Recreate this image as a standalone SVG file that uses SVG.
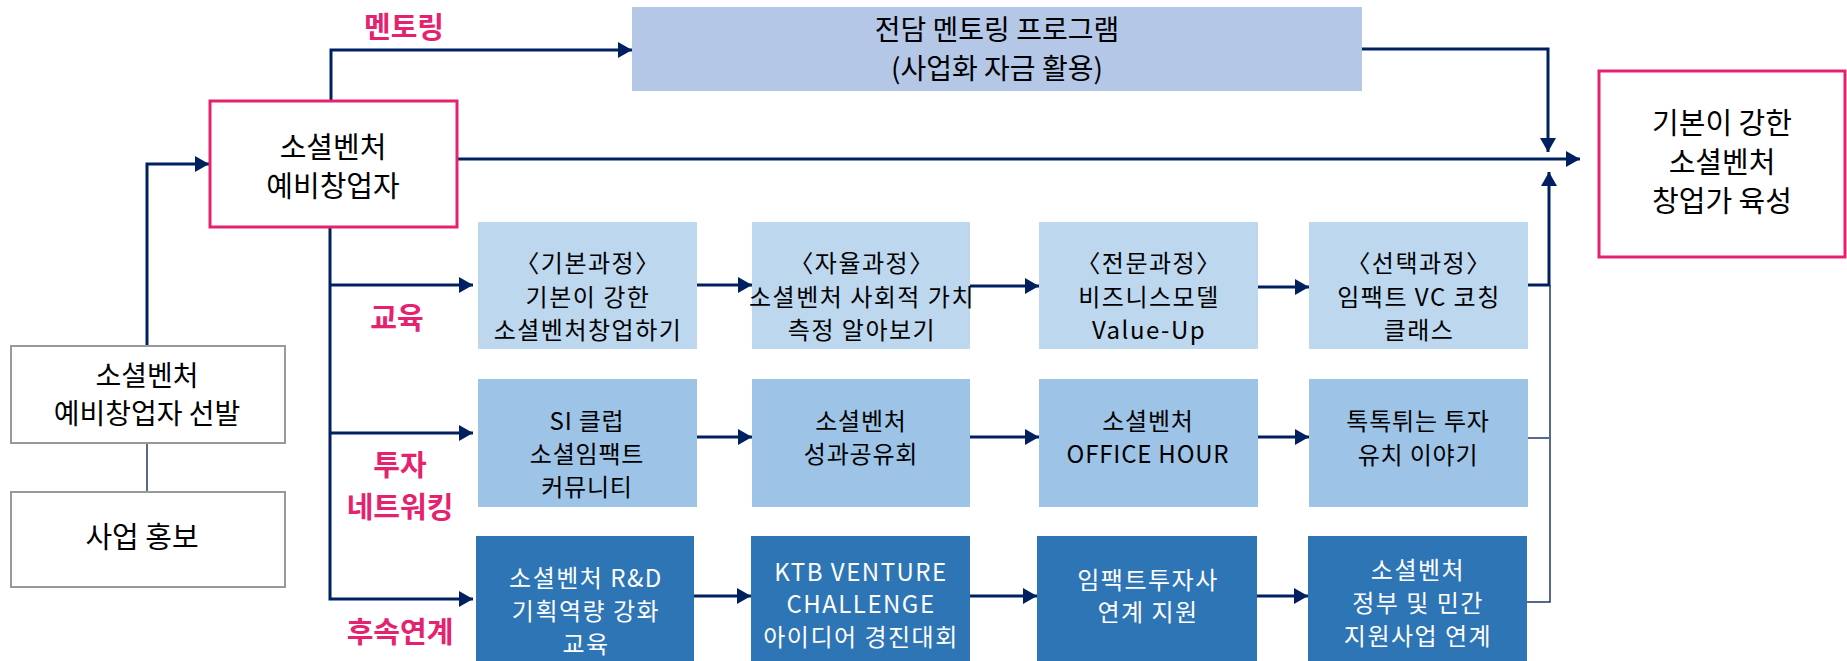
<svg xmlns="http://www.w3.org/2000/svg" width="1847" height="661" viewBox="0 0 1847 661">
<defs>
<style>
.t{font-family:"Noto Sans CJK KR","Noto Sans",sans-serif;text-anchor:middle;fill:#000}
.m{font-size:28px}
.m2{font-size:29px}
.s{font-size:24px;letter-spacing:1.5px}
.s2{font-size:24px;letter-spacing:0.8px}
.w{fill:#fff}
.lb{font-family:"Noto Sans CJK KR","Noto Sans",sans-serif;font-weight:bold;font-size:29px;fill:#E5226F;text-anchor:middle}
.c{fill:none;stroke:#002060;stroke-width:3}
.thin{fill:none;stroke:#1F3864;stroke-width:1.5}
.r1{fill:#BDD7EE}
.r2{fill:#9DC3E6}
.r3{fill:#2E75B6}
</style>
<marker id="ah" viewBox="0 0 14 16" refX="14" refY="8" markerWidth="14" markerHeight="16" markerUnits="userSpaceOnUse" orient="auto">
<path d="M0,0 L14,8 L0,16 Z" fill="#002060"/>
</marker>
</defs>
<rect width="1847" height="661" fill="#fff"/>

<g id="connectors">
<path class="c" d="M331,100 V50 H632" marker-end="url(#ah)"/>
<path class="c" d="M1362,49 H1548 V152" marker-end="url(#ah)"/>
<path class="c" d="M458,159 H1580" marker-end="url(#ah)"/>
<path class="c" d="M147,346 V164 H209" marker-end="url(#ah)"/>
<path class="thin" d="M147,443 V492"/>
<path class="c" d="M330,227 V599 H473" marker-end="url(#ah)"/>
<path class="c" d="M330,285 H473" marker-end="url(#ah)"/>
<path class="c" d="M330,433 H473" marker-end="url(#ah)"/>
<path class="c" d="M697,285 H752" marker-end="url(#ah)"/>
<path class="c" d="M970,286 H1039" marker-end="url(#ah)"/>
<path class="c" d="M1258,287 H1309" marker-end="url(#ah)"/>
<path class="c" d="M697,437 H752" marker-end="url(#ah)"/>
<path class="c" d="M970,437 H1039" marker-end="url(#ah)"/>
<path class="c" d="M1258,437 H1309" marker-end="url(#ah)"/>
<path class="c" d="M694,596 H751" marker-end="url(#ah)"/>
<path class="c" d="M970,596 H1037" marker-end="url(#ah)"/>
<path class="c" d="M1257,596 H1308" marker-end="url(#ah)"/>
<path class="c" d="M1528,285 H1549 V172" marker-end="url(#ah)"/>
<path class="thin" d="M1528,438 H1549"/>
<path class="thin" d="M1527,602 H1550 V285"/>
</g>

<g id="label-mentoring"><text class="lb" x="404" y="38">멘토링</text></g>
<g id="label-edu"><text class="lb" x="397" y="329">교육</text></g>
<g id="label-invest"><text class="lb" x="400" y="476">투자</text><text class="lb" x="400" y="518">네트워킹</text></g>
<g id="label-follow"><text class="lb" x="400" y="643">후속연계</text></g>

<g id="n-mentoring">
<rect x="632" y="7" width="730" height="84" fill="#B4C7E7"/>
<text class="t m" x="997" y="40">전담 멘토링 프로그램</text>
<text class="t m" x="997" y="79">(사업화 자금 활용)</text>
</g>

<g id="n-prestartup">
<rect x="210" y="101" width="247" height="126" fill="#fff" stroke="#E5226F" stroke-width="3"/>
<text class="t m" x="333" y="158" style="font-size:29px">소셜벤처</text>
<text class="t m" x="333" y="197" style="font-size:29px">예비창업자</text>
</g>

<g id="n-goal">
<rect x="1599" y="71" width="246" height="186" fill="#fff" stroke="#E5226F" stroke-width="3"/>
<text class="t m2" x="1722" y="134">기본이 강한</text>
<text class="t m2" x="1722" y="173">소셜벤처</text>
<text class="t m2" x="1722" y="212">창업가 육성</text>
</g>

<g id="n-select">
<rect x="11" y="346" width="274" height="97" fill="#fff" stroke="#999" stroke-width="2"/>
<text class="t m" x="147" y="386">소셜벤처</text>
<text class="t m" x="147" y="424">예비창업자 선발</text>
</g>

<g id="n-promo">
<rect x="11" y="492" width="274" height="95" fill="#fff" stroke="#999" stroke-width="2"/>
<text class="t m" x="142" y="548" style="font-size:29px">사업 홍보</text>
</g>

<g id="n-edu1">
<rect class="r1" x="478" y="222" width="219" height="127"/>
<text class="t s" x="588" y="272">〈기본과정〉</text>
<text class="t s" x="588" y="306">기본이 강한</text>
<text class="t s" x="588" y="339">소셜벤처창업하기</text>
</g>
<g id="n-edu2">
<rect class="r1" x="752" y="222" width="218" height="127"/>
<text class="t s" x="862" y="272">〈자율과정〉</text>
<text class="t s" x="862" y="306">소셜벤처 사회적 가치</text>
<text class="t s" x="862" y="339">측정 알아보기</text>
</g>
<g id="n-edu3">
<rect class="r1" x="1039" y="222" width="219" height="127"/>
<text class="t s" x="1149" y="272">〈전문과정〉</text>
<text class="t s" x="1149" y="306">비즈니스모델</text>
<text class="t s" x="1149" y="339">Value-Up</text>
</g>
<g id="n-edu4">
<rect class="r1" x="1309" y="222" width="219" height="127"/>
<text class="t s" x="1419" y="272">〈선택과정〉</text>
<text class="t s" x="1419" y="306">임팩트 VC 코칭</text>
<text class="t s" x="1419" y="339">클래스</text>
</g>

<g id="n-inv1">
<rect class="r2" x="478" y="379" width="219" height="128"/>
<text class="t s2" x="587" y="430">SI 클럽</text>
<text class="t s2" x="587" y="463">소셜임팩트</text>
<text class="t s2" x="587" y="496">커뮤니티</text>
</g>
<g id="n-inv2">
<rect class="r2" x="752" y="379" width="218" height="128"/>
<text class="t s2" x="861" y="430">소셜벤처</text>
<text class="t s2" x="861" y="463">성과공유회</text>
</g>
<g id="n-inv3">
<rect class="r2" x="1039" y="379" width="219" height="128"/>
<text class="t s2" x="1148" y="430">소셜벤처</text>
<text class="t s2" x="1148" y="463">OFFICE HOUR</text>
</g>
<g id="n-inv4">
<rect class="r2" x="1309" y="379" width="219" height="128"/>
<text class="t s2" x="1418" y="430">톡톡튀는 투자</text>
<text class="t s2" x="1418" y="464">유치 이야기</text>
</g>

<g id="n-fol1">
<rect class="r3" x="476" y="536" width="218" height="125"/>
<text class="t s w" x="586" y="587">소셜벤처 R&amp;D</text>
<text class="t s w" x="586" y="620">기획역량 강화</text>
<text class="t s w" x="586" y="653">교육</text>
</g>
<g id="n-fol2">
<rect class="r3" x="751" y="536" width="219" height="125"/>
<text class="t s w" x="861" y="581">KTB VENTURE</text>
<text class="t s w" x="861" y="613">CHALLENGE</text>
<text class="t s w" x="861" y="646">아이디어 경진대회</text>
</g>
<g id="n-fol3">
<rect class="r3" x="1037" y="536" width="220" height="125"/>
<text class="t s w" x="1148" y="589">임팩트투자사</text>
<text class="t s w" x="1148" y="621">연계 지원</text>
</g>
<g id="n-fol4">
<rect class="r3" x="1308" y="536" width="219" height="125"/>
<text class="t s w" x="1418" y="579">소셜벤처</text>
<text class="t s w" x="1418" y="612">정부 및 민간</text>
<text class="t s w" x="1418" y="645">지원사업 연계</text>
</g>
</svg>
